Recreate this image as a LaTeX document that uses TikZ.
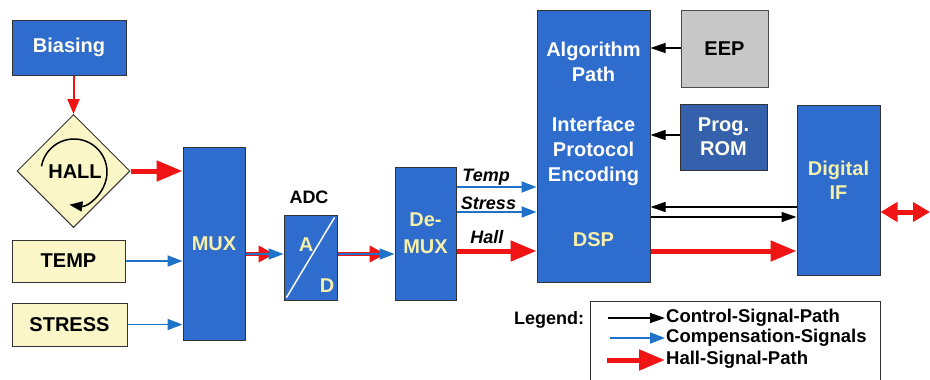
\documentclass[tikz,border=0pt]{standalone}
\usepackage{fontspec}
\setmainfont{Liberation Sans}
\usetikzlibrary{shapes.geometric,arrows.meta,calc}
\definecolor{blk}{RGB}{46,108,205}
\definecolor{rom}{RGB}{52,96,172}
\definecolor{pale}{RGB}{250,246,200}
\definecolor{txty}{RGB}{245,240,170}
\definecolor{eep}{RGB}{200,200,200}
\definecolor{cblue}{RGB}{30,115,200}
\definecolor{hred}{RGB}{240,20,20}
\begin{document}
\begin{tikzpicture}[x=1pt,y=-1pt,
  big/.style={font=\bfseries\fontsize{20}{25}\selectfont},
  bbox/.style={draw=black!80,line width=1pt,fill=blk,big,text=txty,align=center,inner sep=0pt},
  wbox/.style={bbox,text=white!95!yellow},
  ybox/.style={draw=black!80,line width=1pt,fill=pale,big,inner sep=0pt},
  ctrl/.style={-{Triangle[length=15pt,width=10pt]},black,line width=1.4pt},
  comp/.style={-{Triangle[length=15pt,width=11pt]},cblue,line width=1.8pt},
  hall/.style={-{Triangle[length=26pt,width=20pt]},hred,line width=5pt},
  lbl/.style={font=\bfseries\itshape\fontsize{18}{20}\selectfont,text=black},
  legt/.style={font=\bfseries\fontsize{18.5}{20}\selectfont,anchor=west,inner sep=1pt}
]
\useasboundingbox (0,0) rectangle (930,380);
% nodes
\node[wbox,minimum width=114pt,minimum height=55pt] (bias) at (69,47.5) {Biasing};
\node[ybox,diamond,aspect=1,minimum width=113pt,minimum height=113pt] (hall) at (73.5,171) {};
\node[big] (hallt) at (75,172) {HALL};
\draw[line width=1.5pt,-{Triangle[length=13pt,width=10pt]}] (74,172) ++(190:33) arc[start angle=190,end angle=458,radius=33] coordinate (hallarr);
\node[ybox,minimum width=113pt,minimum height=42pt] (temp) at (68.5,261) {TEMP};
\node[ybox,minimum width=115pt,minimum height=43pt] (stress) at (69.5,324.5) {STRESS};
\node[bbox,minimum width=62pt,minimum height=193pt] (mux) at (214,243.5) {MUX};
\node[bbox,minimum width=53pt,minimum height=85pt] (adc) at (310.5,257.5) {};
\draw[white,line width=1.5pt] (adc.south west) ++(3,-3) -- ($(adc.north east)+(-3,3)$);
\node[big,text=txty] (adca) at (306,245) {A};
\node[big,text=txty] (adcd) at (327,286) {D};
\node[font=\bfseries\fontsize{18}{20}\selectfont] (adcl) at (309,197) {ADC};
\node[bbox,font=\bfseries\fontsize{20}{27}\selectfont,minimum width=61pt,minimum height=133pt] (demux) at (425.5,233.5) {De-\\MUX};
\node[wbox,minimum width=113pt,minimum height=272pt] (dsp) at (593.5,146) {};
\node[big,text=white,align=center] (alg) at (593.5,62) {Algorithm\\Path};
\node[big,text=white,align=center] (ipe) at (593.5,151) {Interface\\Protocol\\Encoding};
\node[big,text=txty] (dspt) at (593.5,240) {DSP};
\node[draw=black!70,line width=1pt,fill=eep,big,minimum width=87pt,minimum height=77pt,inner sep=0pt] (eep) at (724.5,48.5) {EEP};
\node[wbox,fill=rom,font=\bfseries\fontsize{20}{24}\selectfont,minimum width=87pt,minimum height=66pt] (rom) at (723.5,137) {Prog.\\ROM};
\node[draw=black!80,line width=1pt,fill=blk,minimum width=83pt,minimum height=170pt,inner sep=0pt] (difbox) at (838.5,190) {};
\node[font=\bfseries\fontsize{20}{24}\selectfont,text=txty,align=center] (diftxt) at (838.5,180) {Digital\\IF};
% connectors
\draw[-{Triangle[length=15pt,width=12pt]},hred,line width=2pt] (hall.north |- bias.south) -- (hall.north);
\draw[hall] (hall.east) -- (mux.west |- hall.east);
\draw[comp] (temp.east) -- (mux.west |- temp.east);
\draw[comp] (stress.east) -- (mux.west |- stress.east);
\coordinate (m1) at (mux.east |- 0,254);
\coordinate (a1) at (adc.west |- 0,254);
\coordinate (a2) at (adc.east |- 0,254);
\coordinate (d1) at (demux.west |- 0,254);
\draw[hall,line width=4pt,-{Triangle[length=16pt,width=16pt]}] (m1) -- ($(a1)+(-9,0)$);
\draw[comp,line width=1.6pt] (m1) -- (a1);
\draw[hall,line width=4pt,-{Triangle[length=16pt,width=16pt]}] (a2) -- ($(d1)+(-9,0)$);
\draw[comp,line width=1.6pt] (a2) -- (d1);
\draw[comp] (demux.east |- 0,187) -- node[lbl,above=-2pt,pos=0.37] {Temp} (dsp.west |- 0,187);
\draw[comp] (demux.east |- 0,212) -- node[lbl,above=-2pt,pos=0.4] {Stress} (dsp.west |- 0,212);
\draw[hall] (demux.east |- 0,251) -- node[lbl,above=1pt,pos=0.38] {Hall} (dsp.west |- 0,251);
\draw[ctrl] (eep.west |- 0,48) -- (dsp.east |- 0,48);
\draw[ctrl] (rom.west |- 0,135) -- (dsp.east |- 0,135);
\draw[ctrl] (difbox.west |- 0,207) -- (dsp.east |- 0,207);
\draw[ctrl] (dsp.east |- 0,217) -- (difbox.west |- 0,217);
\draw[hall] (dsp.east |- 0,251) -- (difbox.west |- 0,251);
\coordinate (io) at (930,212);
\draw[{Triangle[length=17pt,width=19pt]}-{Triangle[length=17pt,width=19pt]},hred,line width=5pt] (difbox.east |- io) -- (io);
% legend
\node[font=\bfseries\fontsize{18}{20}\selectfont] (leg) at (549,320) {Legend:};
\draw[black!80,line width=1pt] (590,381) coordinate (lb1) -- (590,301) -- (880,301) -- (880,381);
\coordinate (l1s) at (608,318); \coordinate (l1e) at (665,318);
\coordinate (l2s) at (610,338); \coordinate (l2e) at (665,338);
\coordinate (l3s) at (607,360); \coordinate (l3e) at (665,360);
\draw[ctrl] (l1s) -- (l1e);
\draw[comp] (l2s) -- (l2e);
\draw[hall] (l3s) -- (l3e);
\node[legt] (t1) at (l1e) {Control-Signal-Path};
\node[legt] (t2) at (l2e) {Compensation-Signals};
\node[legt] (t3) at (l3e) {Hall-Signal-Path};
\end{tikzpicture}
\end{document}
